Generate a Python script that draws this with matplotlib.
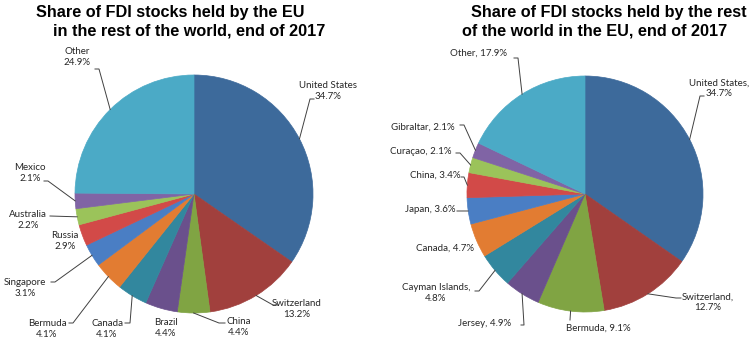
import numpy as np
import matplotlib.pyplot as plt

# share of FDI stocks, end of 2017 (%)
out_countries = ['United States', 'Switzerland', 'China', 'Brazil', 'Canada', 'Bermuda',
                 'Singapore', 'Russia', 'Australia', 'Mexico', 'Other']
out_shares = [34.7, 13.2, 4.4, 4.4, 4.1, 4.1, 3.1, 2.9, 2.2, 2.1, 24.9]

in_countries = ['United States', 'Switzerland', 'Bermuda', 'Jersey', 'Cayman Islands', 'Canada',
                'Japan', 'China', 'Curaçao', 'Gibraltar', 'Other']
in_shares = [34.7, 12.7, 9.1, 4.9, 4.8, 4.7, 3.6, 3.4, 2.1, 2.1, 17.9]

colors = ['#3D6A9B', '#A1403D', '#80A443', '#6A508C', '#32879E', '#E27C32',
          '#4A7EC4', '#D24A48', '#9BC35A', '#8064A5', '#4BAAC6']

W, H = 756, 349

# label layout in image pixels: text centre, line anchor (None = no leader line), elbow dx
out_layout = [((328, 91), (314, 99), -4), ((297, 309), (278, 305), -5), ((239, 327), (225, 323), -6),
              ((166, 328), None, 0), ((107, 329), (125, 323), 5), ((47, 329), (69, 323), 4),
              ((25, 288), (51, 282), 4), ((65, 241), None, 0), ((28, 220), (50, 216), 0),
              ((30, 173), (44, 181), 4), ((77, 57), (95, 69), 4)]
in_layout = [((719, 88), (704, 96), -4), ((708, 302), (681, 298), -5), ((598, 328), (570, 320), 0),
             ((485, 323), (521, 325), 3), ((436, 293), (475, 291), 4), ((445, 248), None, 0),
             ((430, 210), (457, 211), 0), ((435, 175), (461, 177), 3), ((421, 152), (456, 153), 4),
             ((423, 127), (460, 125), 4), ((478, 53), (514, 58), 4)]
in_sep = [',\n', ',\n', ', ', ', ', ',\n', ', ', ', ', ', ', ', ', ', ', ', ']

fig = plt.figure(figsize=(W / 100, H / 100), dpi=100)
ax = fig.add_axes([0, 0, 1, 1])

txt_col = '#262626'
line_col = '#404040'


def draw_pie(values, center, radius, layout, texts):
    wedges, _ = ax.pie(values, colors=colors, startangle=90, counterclock=False,
                       center=(center[0], H - center[1]), radius=radius)
    for w, (tc, anchor, dx), t in zip(wedges, layout, texts):
        # hide the seams between slices
        w.set_edgecolor(w.get_facecolor())
        w.set_linewidth(0.5)
        ax.text(tc[0], H - tc[1], t, ha='center', va='center', fontsize=7,
                family='Lato', color=txt_col, linespacing=1.2)
        if anchor is None:
            continue
        mid = np.deg2rad((w.theta1 + w.theta2) / 2)
        ex = w.center[0] + w.r * np.cos(mid)
        ey = w.center[1] + w.r * np.sin(mid)
        xs = [ex, anchor[0] + dx, anchor[0]]
        ys = [ey, H - anchor[1], H - anchor[1]]
        ax.plot(xs, ys, color=line_col, lw=0.7)


draw_pie(out_shares, (194, 194), 119, out_layout,
         [f'{c}\n{v}%' for c, v in zip(out_countries, out_shares)])
draw_pie(in_shares, (585, 194), 118, in_layout,
         [f'{c}{s}{v}%' for c, s, v in zip(in_countries, in_sep, in_shares)])

tkw = dict(fontsize=11.7, fontweight='bold', family='Liberation Sans', color='black',
           ha='center', va='baseline')
ax.text(170, H - 17, 'Share of FDI stocks held by the EU', **tkw)
ax.text(189, H - 35, 'in the rest of the world, end of 2017', **tkw)
ax.text(609, H - 17, 'Share of FDI stocks held by the rest', **tkw)
ax.text(595, H - 35, 'of the world in the EU, end of 2017', **tkw)

ax.set_xlim(0, W)
ax.set_ylim(0, H)
ax.set_aspect('auto')
ax.axis('off')

fig.savefig('out.png', dpi=100, facecolor='white')
